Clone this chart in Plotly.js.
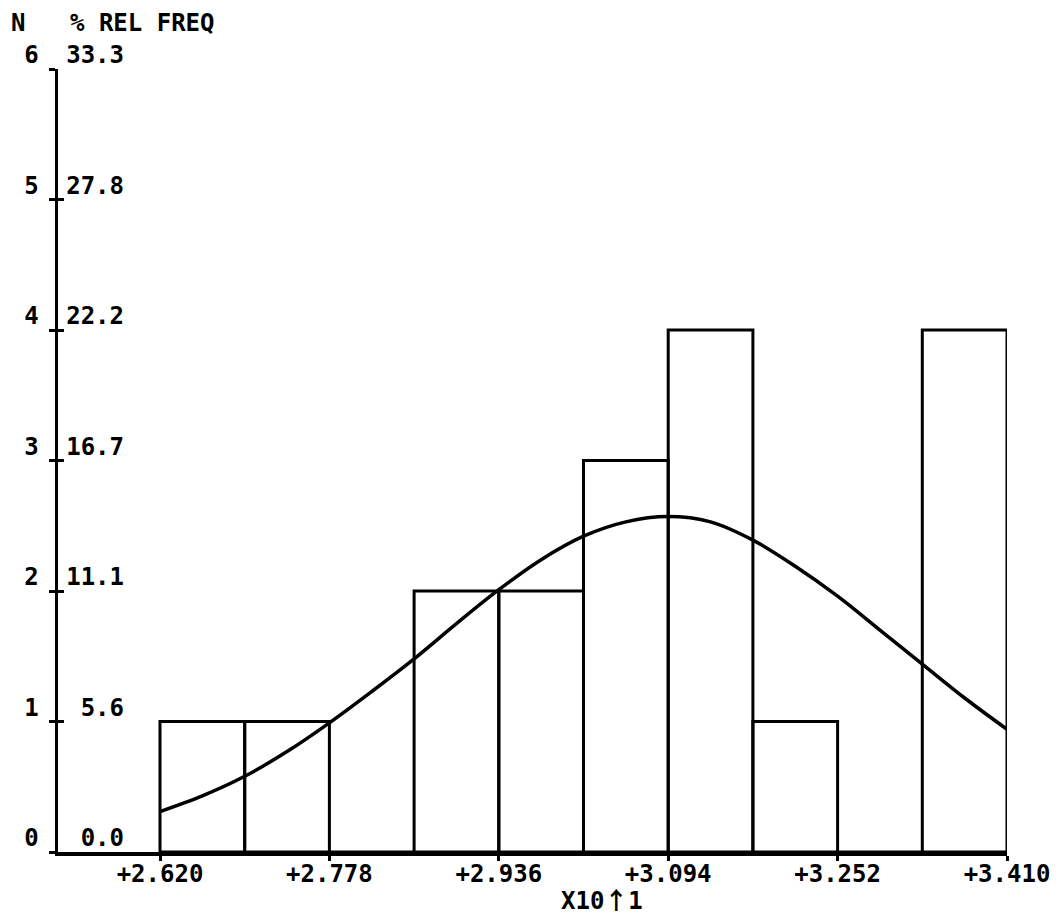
<!DOCTYPE html>
<html>
<head>
<meta charset="utf-8">
<script src="https://cdn.plot.ly/plotly-3.0.1.min.js"></script>
<style>
  html, body { margin: 0; padding: 0; background: #ffffff; }
  #chart { width: 1058px; height: 916px; }
</style>
</head>
<body>
<div id="chart"></div>
<script>
// ---- data ----
const binEdges = [2.620, 2.699, 2.778, 2.857, 2.936, 3.015, 3.094, 3.173, 3.252, 3.331, 3.410];
const counts   = [1, 1, 0, 2, 2, 3, 4, 1, 0, 4];

const xTickVals   = [2.620, 2.778, 2.936, 3.094, 3.252, 3.410];
const xTickLabels = ["+2.620", "+2.778", "+2.936", "+3.094", "+3.252", "+3.410"];

const nTickVals   = [0, 1, 2, 3, 4, 5, 6];
const nTickLabels = ["0", "1", "2", "3", "4", "5", "6"];
const pctTickLabels = ["0.0", "5.6", "11.1", "16.7", "22.2", "27.8", "33.3"];

const curveX = [2.620, 2.6595, 2.699, 2.7385, 2.778, 2.8175, 2.857, 2.8965, 2.936, 2.9755, 3.015,
                3.0545, 3.094, 3.1335, 3.173, 3.2125, 3.252, 3.2915, 3.331, 3.3705, 3.410];
const curveY = [0.31, 0.43, 0.58, 0.77, 0.99, 1.23, 1.48, 1.75, 2.01, 2.24, 2.42,
                2.53, 2.57, 2.53, 2.39, 2.19, 1.96, 1.70, 1.44, 1.18, 0.94];

const headerN = "N";
const headerPct = "% REL FREQ";
const xUnitPre = "X10";
const xUnitArrow = "\u2191";
const xUnitPost = "1";

// ---- layout geometry ----
const W = 1058, H = 916;
const M = { l: 58, r: 51, t: 69, b: 64 };
const plotW = W - M.l - M.r, plotH = H - M.t - M.b;
const xPxFirst = 160;  // pixel of first bin edge
const xLast = binEdges[binEdges.length - 1];
const pxPerUnit = (W - M.r - xPxFirst) / (xLast - binEdges[0]);
const xMin = binEdges[0] - (xPxFirst - M.l) / pxPerUnit;

const px2paperX = p => (p - M.l) / plotW;
const px2paperY = p => (H - M.b - p) / plotH;

const FONT = { family: "DejaVu Sans Mono, Liberation Mono, monospace", size: 24, color: "#000", weight: "bold" };

// pad labels so they right-align in the monospace font
const maxLen = Math.max(...pctTickLabels.map(s => s.length));
const pctPadded = pctTickLabels.map(s => "\u00a0".repeat(maxLen - s.length) + s);

const barLeft = binEdges.slice(0, -1);
const barWidth = barLeft.map((e, i) => binEdges[i + 1] - e);

const traces = [
  {
    type: "bar",
    x: barLeft,
    y: counts,
    width: barWidth,
    offset: 0,
    marker: { color: "rgba(0,0,0,0)", line: { color: "#000", width: 3 } },
    cliponaxis: false,
    hoverinfo: "skip",
    showlegend: false
  },
  {
    type: "scatter",
    mode: "lines",
    x: curveX,
    y: curveY,
    line: { color: "#000", width: 3.5, shape: "spline", smoothing: 1 },
    cliponaxis: false,
    hoverinfo: "skip",
    showlegend: false
  },
  {
    type: "scatter",
    mode: "lines",
    x: [curveX[0]],
    y: [curveY[0]],
    yaxis: "y2",
    line: { color: "rgba(0,0,0,0)" },
    hoverinfo: "skip",
    showlegend: false
  }
];

const layout = {
  width: W,
  height: H,
  margin: M,
  paper_bgcolor: "#fff",
  plot_bgcolor: "#fff",
  font: FONT,
  showlegend: false,
  bargap: 0,
  xaxis: {
    range: [xMin, xLast],
    showgrid: false,
    zeroline: false,
    showline: true,
    linecolor: "#000",
    linewidth: 3.5,
    ticks: "outside",
    ticklen: 5,
    tickwidth: 3,
    tickcolor: "#000",
    tickmode: "array",
    tickvals: xTickVals,
    ticktext: xTickLabels,
    ticklabelstandoff: -7,
    tickfont: FONT,
    fixedrange: true
  },
  yaxis: {
    range: [0, 6],
    showgrid: false,
    zeroline: false,
    showline: true,
    linecolor: "#000",
    linewidth: 3.5,
    ticks: "outside",
    ticklen: 6,
    tickwidth: 3,
    tickcolor: "#000",
    tickmode: "array",
    tickvals: nTickVals,
    ticktext: nTickLabels,
    ticklabelshift: -14,
    ticklabelstandoff: 5,
    tickfont: FONT,
    fixedrange: true
  },
  yaxis2: {
    overlaying: "y",
    matches: "y",
    side: "left",
    range: [0, 6],
    showgrid: false,
    zeroline: false,
    showline: false,
    ticks: "inside",
    ticklen: 6,
    tickwidth: 3,
    tickcolor: "#000",
    tickmode: "array",
    tickvals: nTickVals,
    ticktext: pctPadded,
    ticklabelposition: "inside",
    ticklabeloverflow: "allow",
    ticklabelshift: -14,
    ticklabelstandoff: 4,
    tickfont: FONT,
    fixedrange: true
  },
  annotations: [
    {
      text: headerN, xref: "paper", yref: "paper",
      x: px2paperX(9), y: px2paperY(23), xanchor: "left", yanchor: "middle",
      showarrow: false, font: FONT
    },
    {
      text: headerPct, xref: "paper", yref: "paper",
      x: px2paperX(68), y: px2paperY(23), xanchor: "left", yanchor: "middle",
      showarrow: false, font: FONT
    },
    {
      text: xUnitPre + '<span style="font-family:\'Noto Sans CJK SC\';font-weight:bold">' + xUnitArrow + '</span>' + xUnitPost,
      xref: "paper", yref: "paper",
      x: px2paperX(602), y: px2paperY(898), xanchor: "center", yanchor: "middle",
      showarrow: false, font: FONT
    }
  ]
};

Plotly.newPlot("chart", traces, layout, { displayModeBar: false, staticPlot: true });
</script>
</body>
</html>
